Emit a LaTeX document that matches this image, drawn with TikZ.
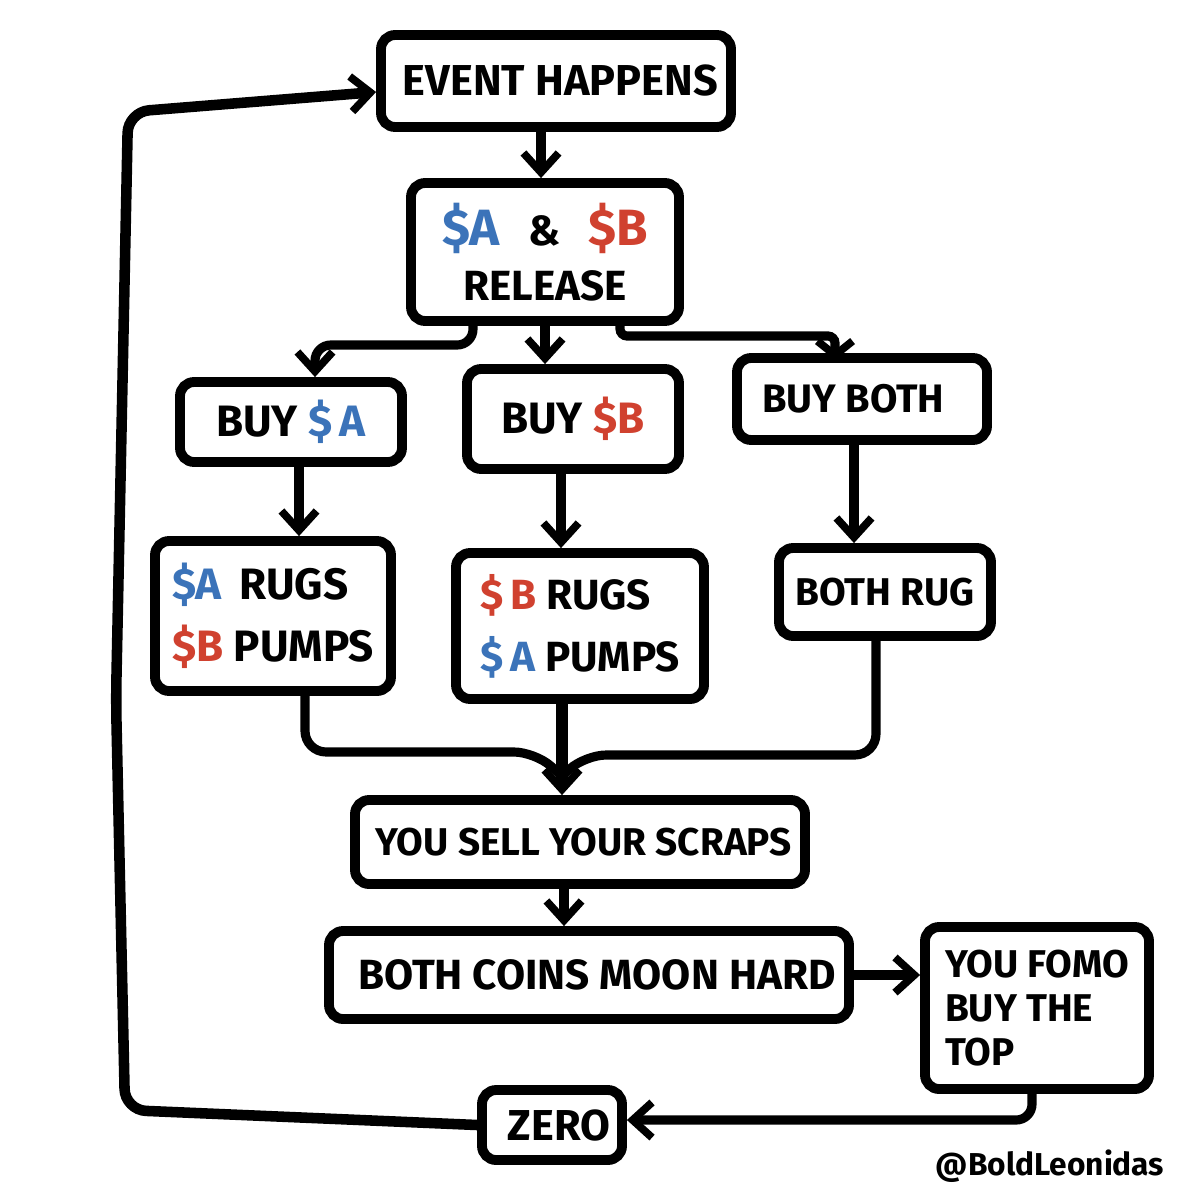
\documentclass[tikz,border=0pt]{standalone}
\usepackage{fontspec}
\setmainfont{Fira Sans}[BoldFont={Fira Sans Bold}]
\usetikzlibrary{arrows.meta,calc}
\definecolor{coinblue}{HTML}{3B73B9}
\definecolor{coinred}{HTML}{D0412F}
\newcommand{\CA}{\textcolor{coinblue}{\$A}}
\newcommand{\CB}{\textcolor{coinred}{\$B}}
\newcommand{\CAs}{\textcolor{coinblue}{\$\,A}}
\newcommand{\CBs}{\textcolor{coinred}{\$\,B}}
\tikzset{
  x=0.01cm,y=-0.01cm,
  flowbox/.style={draw=black,line width=2.8pt,rounded corners=4pt,fill=white,align=center,inner sep=0pt},
  txt/.style 2 args={font=\fontsize{#1}{#2}\selectfont\bfseries},
  link/.style={draw=black,line width=2.6pt,rounded corners=4.5pt,-{Straight Barb[length=5.5pt,width=10pt,line width=2.2pt]}},
  shortlink/.style={draw=black,line width=2.6pt,rounded corners=2pt,-{Straight Barb[length=4pt,width=10pt,line width=2.2pt]}},
  plainlink/.style={draw=black,line width=2.6pt,rounded corners=6pt}
}
\newcommand{\bx}[7][]{\node[flowbox,minimum width=#5*0.01cm,minimum height=#6*0.01cm,#1] (#2) at (#3,#4) {#7};}
\begin{document}
\begin{tikzpicture}
\useasboundingbox (0,0) rectangle (1200,1200);
\fill[white] (0,0) rectangle (1200,1200);
\bx[txt={12.3}{15}]{event}{556}{81}{350}{92}{\kern2.5pt EVENT HAPPENS}
\bx[txt={12}{15.6}]{rel}{545}{252}{268}{138}{{\fontsize{14.5}{15.6}\selectfont\CA}\kern8pt\&\kern8pt{\fontsize{14.5}{15.6}\selectfont\CB}\\RELEASE}
\bx[txt={12.5}{15}]{buya}{291}{422}{222}{80}{BUY \CAs}
\bx[txt={12.5}{15}]{buyb}{573}{419}{212}{100}{BUY \CB}
\bx[txt={11.3}{15}]{both}{862}{399}{250}{82}{BUY BOTH\kern5pt}
\bx[txt={12.5}{17.6},align=left]{arug}{273}{616}{236}{150}{\CA{}\kern5pt RUGS\\\CB{} PUMPS}
\bx[txt={12}{17.6},align=left]{brug}{580}{626}{248}{146}{\CBs{} RUGS\\\CAs{} PUMPS}
\bx[txt={11}{15}]{brg}{885}{592}{212}{88}{BOTH RUG}
\bx[txt={11}{15}]{sell}{580}{842}{450}{84}{\kern2pt YOU SELL YOUR SCRAPS}
\bx[txt={12}{15}]{moon}{589}{975}{520}{88}{\kern4.5pt BOTH COINS MOON HARD}
\bx[txt={11}{12.4},align=left]{fomo}{1037}{1008}{224}{162}{YOU FOMO\\BUY THE\\TOP}
\bx[txt={12.3}{15}]{zero}{552}{1125}{140}{70}{\kern4pt ZERO}
\node[txt={9}{11}] (handle) at (1050,1166) {@BoldLeonidas};
\coordinate (merge) at (562,776);
\coordinate (bothin) at ($(both.north -| 835,0)+(0,7)$);
\draw[link] (event.south -| 541,0) -- (rel.north -| 541,0);
\draw[link] ($(rel.south)+(-72,0)$) |- (315,345) -- (buya.north -| 315,0);
\draw[link] (rel.south) -- (buyb.north -| rel.south);
\draw[shortlink] ($(rel.south)+(75,0)$) |- (835,336) -- (bothin);
\draw[link] (buya.south -| 299,0) -- (arug.north -| 299,0);
\draw[link] (buyb.south -| 561,0) -- (brug.north -| 561,0);
\draw[link] (both.south -| 854,0) -- (brg.north -| 854,0);
\draw[plainlink] (arug.south -| 305,0) |- (535,752) -- (merge);
\draw[plainlink] (brg.south -| 876,0) |- (585,755) -- (merge);
\draw[link,line width=3.2pt] (brug.south -| 562,0) -- (sell.north -| 562,0);
\draw[link] (sell.south -| 564,0) -- (moon.north -| 564,0);
\draw[link] (moon.east |- 0,975) -- (fomo.west |- 0,975);
\draw[link] (fomo.south -| 1032,0) |- (zero.east |- 0,1120);
\draw[link,line width=3pt,rounded corners=6pt] (zero.west) -- (125,1110) -- (116,700) -- (128,112) -- (event.west |- 0,92);
\end{tikzpicture}
\end{document}
